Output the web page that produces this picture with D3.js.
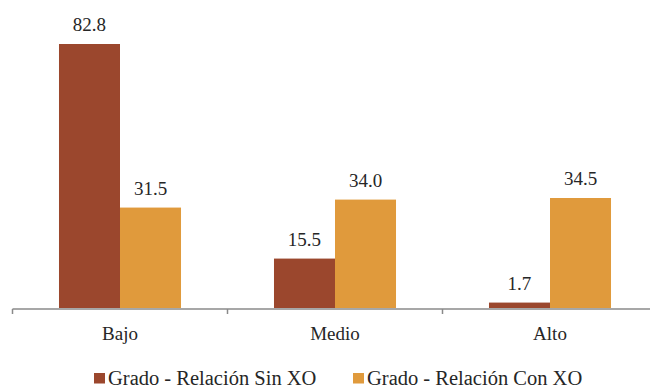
<!DOCTYPE html>
<html>
<head>
<meta charset="utf-8">
<script src="https://cdn.jsdelivr.net/npm/d3@7"></script>
</head>
<body style="margin:0">
<svg id="chart" width="650" height="387" style="display:block"></svg>
<script>
// Categories and series
const categories = ["Bajo", "Medio", "Alto"];
const seriesNames = ["Grado - Relación Sin XO", "Grado - Relación Con XO"];
const sinXO = [82.8, 15.5, 1.7];
const conXO = [31.5, 34.0, 34.5];
const seriesColors = ["#9B472D", "#E09A3C"];

const INK = "#262626";
const svg = d3.select("#chart");
const baseY = 308;

const x = d3.scaleBand().domain(categories).range([12.5, 657.5]).paddingInner(0).paddingOuter(0);
const xs = d3.scaleBand().domain([0, 1]).range([0, x.bandwidth()]).paddingInner(0).paddingOuter(0.762);
const y = d3.scaleLinear().domain([0, 82.8]).range([baseY, 44]);

// One record per bar, with its category and series index
const bars = [];
categories.forEach((c, i) => {
  [sinXO[i], conXO[i]].forEach((v, k) => bars.push({ cat: c, k, v }));
});
const barX = d => x(d.cat) + xs(d.k);

svg.selectAll("rect.bar").data(bars).join("rect")
  .attr("class", "bar")
  .attr("x", barX)
  .attr("width", xs.bandwidth())
  .attr("y", d => y(d.v))
  .attr("height", d => baseY - y(d.v))
  .attr("fill", d => seriesColors[d.k]);

// Value labels above each bar
svg.selectAll("text.val").data(bars).join("text")
  .attr("class", "val")
  .attr("x", d => barX(d) + xs.bandwidth() / 2)
  .attr("y", d => y(d.v) - 13)
  .attr("text-anchor", "middle")
  .attr("font-size", 19)
  .style("font-family", d => `"Liberation Serif"`)
  .attr("fill", INK)
  .text(d => d.v.toFixed(1));

// Category axis
svg.append("line")
  .attr("x1", x.range()[0]).attr("x2", 650)
  .attr("y1", baseY + 1).attr("y2", baseY + 1)
  .attr("stroke", "#8a8a8a").attr("stroke-width", 1.5);
svg.selectAll("line.tick").data(categories).join("line")
  .attr("class", "tick")
  .attr("x1", d => x(d)).attr("x2", d => x(d))
  .attr("y1", baseY + 1).attr("y2", baseY + 6)
  .attr("stroke", "#8a8a8a").attr("stroke-width", 1.5);
svg.selectAll("text.cat").data(categories).join("text")
  .attr("class", "cat")
  .attr("x", d => x(d) + x.bandwidth() / 2)
  .attr("y", baseY + 32)
  .attr("text-anchor", "middle")
  .attr("font-size", 19)
  .style("font-family", d => `"Liberation Serif"`)
  .attr("fill", INK)
  .text(d => d);

// Legend
const legendX = [94, 353];
svg.selectAll("rect.key").data(seriesNames).join("rect")
  .attr("class", "key")
  .attr("x", (d, i) => legendX[i]).attr("y", 373)
  .attr("width", 11).attr("height", 10.5)
  .attr("fill", (d, i) => seriesColors[i]);
svg.selectAll("text.key").data(seriesNames).join("text")
  .attr("class", "key")
  .attr("x", (d, i) => legendX[i] + 14).attr("y", 384.5)
  .attr("font-size", 20.5)
  .style("font-family", d => `"Liberation Serif"`)
  .attr("fill", INK)
  .text(d => d);
</script>
</body>
</html>
